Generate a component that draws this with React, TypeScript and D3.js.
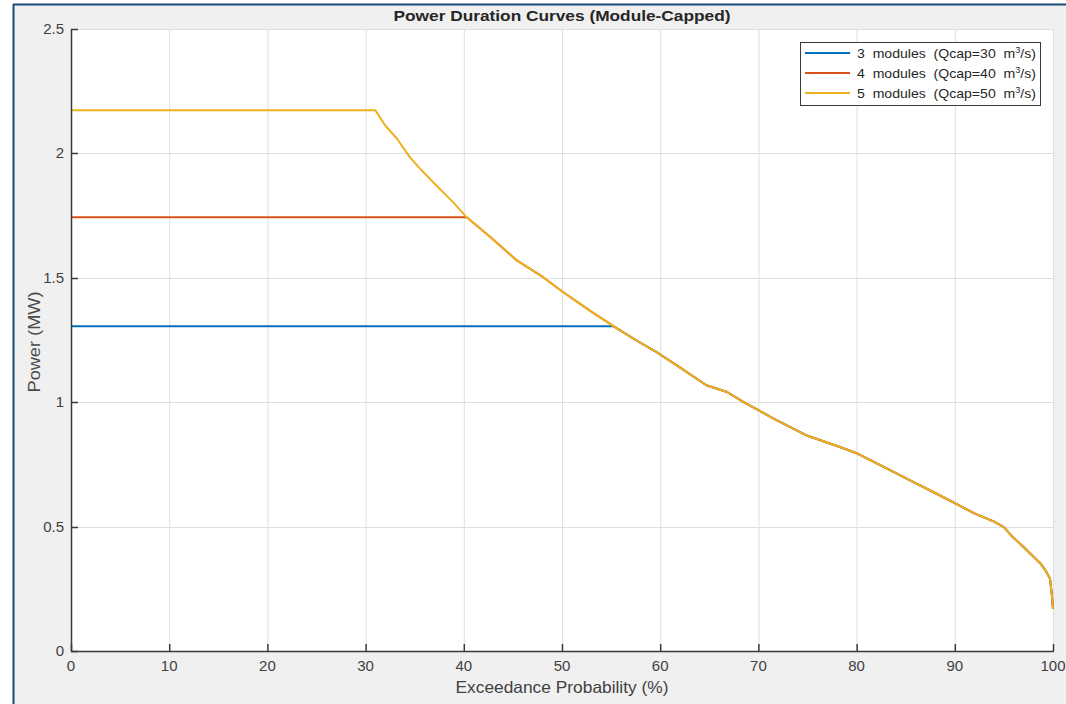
import React from "react";
import * as d3 from "d3";

// sloped part of the power duration curve (shared by all module counts)
const curveX = [31, 32, 33.2, 34.5, 35.7, 37.2, 38.9, 40.3, 42.7, 45.4, 47.8, 50.1, 52.8, 55.4, 57.5, 59.6, 62, 64.7, 66.8, 68.5, 70, 71.5, 73.2, 75, 78.3, 80, 82, 85.4, 88, 90, 92, 94, 95, 95.9, 97, 98, 98.7, 99.3, 99.7, 99.9, 100];
const curveY = [2.173, 2.112, 2.059, 1.985, 1.932, 1.871, 1.804, 1.743, 1.664, 1.57, 1.51, 1.443, 1.369, 1.302, 1.25, 1.202, 1.14, 1.068, 1.041, 1.0, 0.968, 0.935, 0.901, 0.865, 0.82, 0.795, 0.755, 0.687, 0.635, 0.594, 0.553, 0.52, 0.498, 0.458, 0.418, 0.38, 0.353, 0.32, 0.29, 0.22, 0.17];

const seriesNames = ["3 modules", "4 modules", "5 modules"];
const seriesQcap = [30, 40, 50];
const seriesCap = [1.305, 1.743, 2.173];
const seriesKnee = [55.2, 40.3, 31];
const seriesColors = ["#0072BD", "#D95319", "#EDB120"];

const xTicks = [0, 10, 20, 30, 40, 50, 60, 70, 80, 90, 100];
const yTicks = [0, 0.5, 1, 1.5, 2, 2.5];

const W = 1066;
const H = 704;
const m = { left: 71, right: 1053, top: 29, bottom: 651 };
const font = "'Liberation Sans', Arial, sans-serif";

export default function App() {
  const x = d3.scaleLinear().domain([0, 100]).range([m.left, m.right]);
  const y = d3.scaleLinear().domain([0, 2.5]).range([m.bottom, m.top]);
  const line = d3
    .line<[number, number]>()
    .x((d) => x(d[0]))
    .y((d) => y(d[1]));

  const series = seriesNames.map((name, i) => {
    const pts: [number, number][] = [
      [0, seriesCap[i]],
      [seriesKnee[i], seriesCap[i]],
    ];
    curveX.forEach((cx, j) => {
      if (cx > seriesKnee[i]) pts.push([cx, curveY[j]]);
    });
    return { name, q: seriesQcap[i], color: seriesColors[i], pts };
  });

  const legX = 800;
  const legY = 42;

  return (
    <svg
      width={W}
      height={H}
      style={{ position: "fixed", left: 0, top: 0 }}
      fontFamily={font}
    >
      <rect x={0} y={0} width={W} height={H} fill="#ffffff" />
      <rect x={13} y={4} width={W} height={H} fill="#f0f0f0" />
      <line x1={13.5} y1={4} x2={13.5} y2={H} stroke="#1b4a7a" strokeWidth={2} />
      <line x1={13} y1={4.5} x2={W} y2={4.5} stroke="#1b4a7a" strokeWidth={2} />

      <rect x={m.left} y={m.top} width={m.right - m.left} height={m.bottom - m.top} fill="#fff" />

      {/* grid */}
      {xTicks.map((t) => (
        <line key={"gx" + t} x1={x(t) + 0.5} x2={x(t) + 0.5} y1={m.top} y2={m.bottom} stroke="#dfdfdf" />
      ))}
      {yTicks.map((t) => (
        <line key={"gy" + t} x1={m.left} x2={m.right} y1={Math.round(y(t)) + 0.5} y2={Math.round(y(t)) + 0.5} stroke="#dfdfdf" />
      ))}

      {/* series */}
      {series.map((s) => (
        <path key={s.name} d={line(s.pts) || ""} fill="none" stroke={s.color} strokeWidth={2} strokeLinejoin="round" />
      ))}

      {/* axes */}
      <line x1={m.left} x2={m.right + 1} y1={m.bottom + 0.5} y2={m.bottom + 0.5} stroke="#3a3a3a" strokeWidth={1.5} />
      <line x1={m.left + 0.5} x2={m.left + 0.5} y1={m.top} y2={m.bottom + 1} stroke="#3a3a3a" strokeWidth={1.5} />
      {xTicks.map((t) => (
        <g key={"tx" + t}>
          <line x1={x(t) + 0.5} x2={x(t) + 0.5} y1={m.bottom} y2={m.bottom - 7} stroke="#3a3a3a" strokeWidth={1.5} />
          <text x={x(t)} y={m.bottom + 20} textAnchor="middle" fontSize={15} fill="#404040">
            {t}
          </text>
        </g>
      ))}
      {yTicks.map((t) => (
        <g key={"ty" + t}>
          <line x1={m.left} x2={m.left + 7} y1={Math.round(y(t)) + 0.5} y2={Math.round(y(t)) + 0.5} stroke="#3a3a3a" strokeWidth={1.5} />
          <text x={m.left - 7} y={y(t) + 5} textAnchor="end" fontSize={15} fill="#404040">
            {t}
          </text>
        </g>
      ))}

      {/* labels */}
      <text x={562} y={20.5} textAnchor="middle" fontSize={15} fontWeight="bold" fill="#262626" textLength={337} lengthAdjust="spacingAndGlyphs">
        Power Duration Curves (Module-Capped)
      </text>
      <text x={562} y={692.5} textAnchor="middle" fontSize={16.5} fill="#404040" textLength={213} lengthAdjust="spacingAndGlyphs">
        Exceedance Probability (%)
      </text>
      <text
        transform={`translate(40,342) rotate(-90)`}
        textAnchor="middle"
        fontSize={16}
        fill="#4a4a4a"
        textLength={101}
        lengthAdjust="spacingAndGlyphs"
      >
        Power (MW)
      </text>

      {/* legend */}
      <rect x={legX + 0.5} y={legY + 0.5} width={240} height={63} fill="#fff" stroke="#3a3a3a" />
      {series.map((s, i) => (
        <g key={"leg" + s.name} transform={`translate(${legX},${legY + 11 + i * 20})`}>
          <line x1={5} x2={50} y1={0} y2={0} stroke={s.color} strokeWidth={2} />
          <text x={57} y={4.5} fontSize={13} fill="#262626" style={{ whiteSpace: "pre" }} textLength={179} lengthAdjust="spacingAndGlyphs">
            {`${s.name.replace(" ", "  ")}  (Qcap=${s.q}  m`}
            <tspan fontSize={8.5} dy={-5}>3</tspan>
            <tspan dy={5}>/s)</tspan>
          </text>
        </g>
      ))}
    </svg>
  );
}
